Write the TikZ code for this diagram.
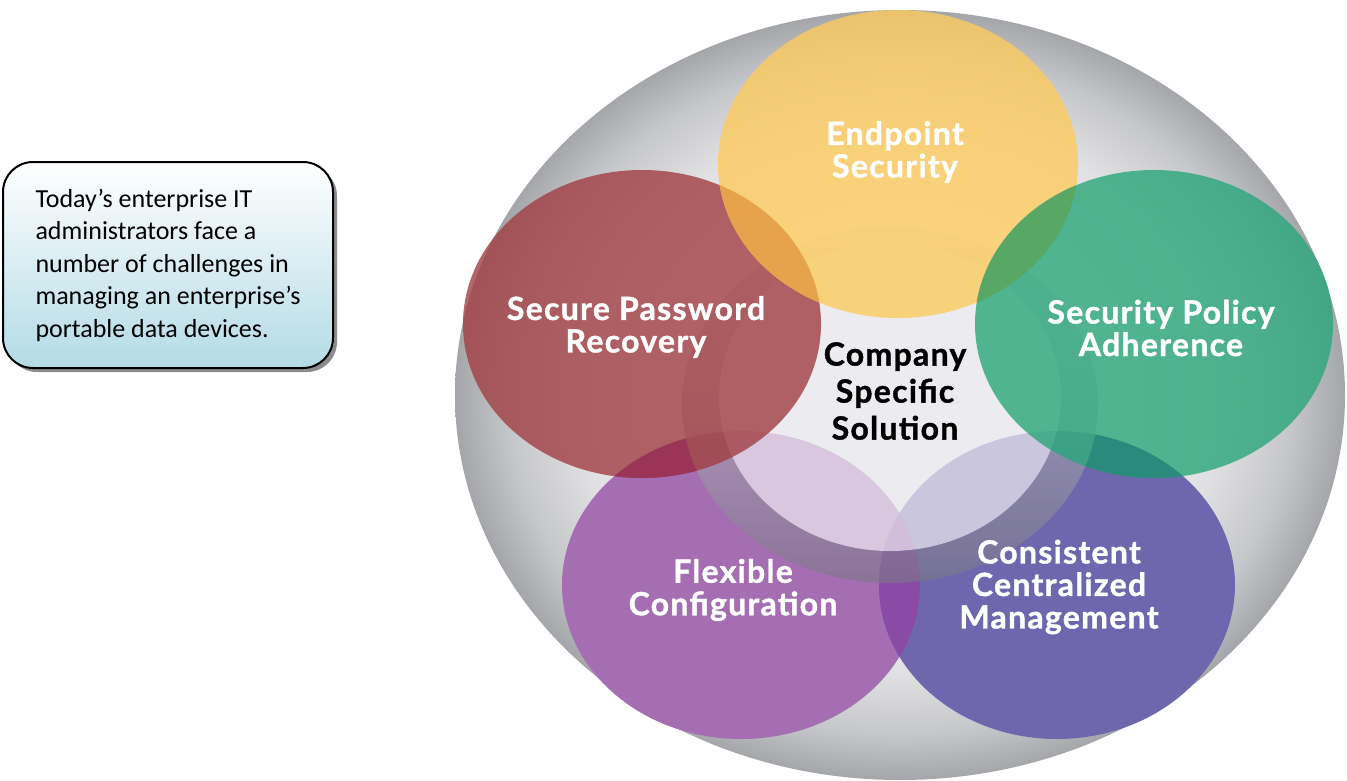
\documentclass[tikz,border=0pt]{standalone}
\usepackage{fontspec}
\setmainfont{Carlito}
\newfontfamily\roundfont{Lato}[BoldFeatures={FakeBold=1.2, LetterSpace=4}]
\usetikzlibrary{shadows}

% palette
\definecolor{sphereA}{HTML}{EFEFF0}
\definecolor{sphereB}{HTML}{E1E1E3}
\definecolor{sphereC}{HTML}{C6C7CA}
\definecolor{sphereD}{HTML}{A4A6AA}
\definecolor{cYellow}{HTML}{FCCB5E}
\definecolor{cRed}{HTML}{A03E43}
\definecolor{cGreen}{HTML}{2AA67A}
\definecolor{cPurple}{HTML}{A56DB2}
\definecolor{cBlue}{HTML}{6F67AD}
\definecolor{mixRY}{HTML}{E6A24B}
\definecolor{mixYG}{HTML}{5AA763}
\definecolor{mixRP}{HTML}{9A3558}
\definecolor{mixGB}{HTML}{2A8A7C}
\definecolor{mixPB}{HTML}{8A4BA6}
\definecolor{ringTop}{HTML}{E4E3E8}
\definecolor{ringBottom}{HTML}{7A7886}
\definecolor{ringInner}{HTML}{ECEBF0}
\definecolor{boxBottom}{HTML}{B3DBE6}

\pgfdeclareradialshading{sphere}{\pgfpoint{0bp}{0bp}}{%
  color(0bp)=(sphereA); color(12bp)=(sphereA); color(18bp)=(sphereB);
  color(22bp)=(sphereC); color(25bp)=(sphereD); color(50bp)=(sphereD)}

% outlines of the shapes
\def\sphereshape{(900,395) ellipse [x radius=445, y radius=385]}
\def\ellY{(898,164) ellipse [x radius=180, y radius=154]}
\def\ellR{(642,324) ellipse [x radius=179, y radius=154]}
\def\ellG{(1154,324) ellipse [x radius=179, y radius=154]}
\def\ellP{(741,585) ellipse [x radius=179, y radius=154]}
\def\ellB{(1057,585) ellipse [x radius=178, y radius=154]}
\def\ringouter{(890,405) ellipse [x radius=208, y radius=178]}
\def\ringinner{(890,397) ellipse [x radius=171, y radius=154]}

\tikzset{
  introbox/.style={draw=black, line width=2pt, rounded corners=30pt,
    top color=white, bottom color=boxBottom,
    minimum width=330, minimum height=206, inner sep=0pt,
    align=left, font=\fontsize{26}{32.5}\selectfont,
    drop shadow={shadow xshift=4pt, shadow yshift=-4pt, fill=black!45, opacity=1}},
  bubbletext/.style={font=\roundfont\bfseries\fontsize{32}{32.5}\selectfont,
    text=white, align=center, inner sep=0pt},
  coretext/.style={font=\roundfont\bfseries\fontsize{32}{37}\selectfont,
    text=black, align=center, inner sep=0pt},
  bubble/.style={fill opacity=0.8},
}

\begin{document}
\begin{tikzpicture}[x=1pt, y=-1pt]
\useasboundingbox (0,0) rectangle (1347,780);

% note box
\node[introbox] (intro) at (168,265)
  {Today’s enterprise IT\\administrators face a\\number of challenges in\\managing an enterprise’s\\portable data devices.};

% background sphere
\shade[shading=sphere] \sphereshape;

% lower bubbles, under the ring
\fill[cPurple] \ellP;
\fill[cBlue] \ellB;
\begin{scope}
  \clip \ellP;
  \fill[mixPB] \ellB;
\end{scope}

% ring around the centre
\shade[top color=ringTop, bottom color=ringBottom, fill opacity=0.6]
  (1098,405) arc[start angle=0, end angle=360, x radius=208, y radius=178]
  -- (1061,397) arc[start angle=360, end angle=0, x radius=171, y radius=154] -- cycle;
\fill[ringInner, fill opacity=0.72] \ringinner;

% upper bubbles
\fill[cRed, bubble] \ellR;
\fill[cYellow, bubble] \ellY;
\fill[cGreen, bubble] \ellG;

% overlaps
\begin{scope}
  \clip \ellR; \fill[mixRY, fill opacity=0.92] \ellY;
\end{scope}
\begin{scope}
  \clip \ellG; \fill[mixYG, fill opacity=0.92] \ellY;
\end{scope}
\begin{scope}
  \clip \ellR; \clip \ellP;
  \fill[mixRP, even odd rule] (0,0) rectangle (1347,780) \ringouter;
\end{scope}
\begin{scope}
  \clip \ellG; \clip \ellB;
  \fill[mixGB, even odd rule] (0,0) rectangle (1347,780) \ringouter;
\end{scope}

% labels
\node[bubbletext] (endpoint) at (895,152) {Endpoint\\Security};
\node[bubbletext] (password) at (636,327) {Secure Password\\Recovery};
\node[bubbletext] (policy) at (1161,328) {Security Policy\\Adherence};
\node[bubbletext] (flexible) at (733,590) {Flexible\\Configuration};
\node[bubbletext] (central) at (1059,587) {Consistent\\Centralized\\Management};
\node[coretext] (core) at (895,391) {Company\\Specific\\Solution};
\end{tikzpicture}
\end{document}
